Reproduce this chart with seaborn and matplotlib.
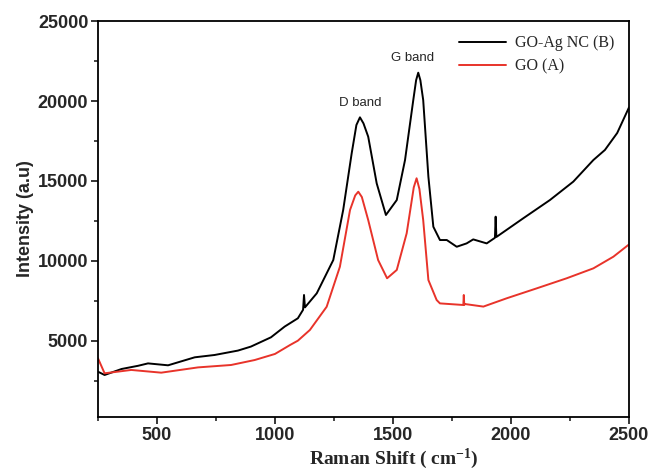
import numpy as np
import pandas as pd
import matplotlib
matplotlib.use("Agg")
import matplotlib.pyplot as plt
from matplotlib.ticker import MultipleLocator
import seaborn as sns

# Raman spectra (shift in cm-1, intensity in a.u.)
shift_agnc = [250, 278, 350, 420, 462, 547, 660, 744, 843, 898, 983, 1041, 1097, 1119, 1123, 1127,
              1177, 1247, 1289, 1325, 1345, 1360, 1375, 1395, 1431, 1470, 1516, 1551, 1586, 1598,
              1607, 1616, 1628, 1650, 1671, 1699, 1728, 1770, 1812, 1840, 1897, 1932, 1935, 1938,
              2052, 2165, 2264, 2349, 2398, 2450, 2500]
int_agnc = [3080, 2875, 3250, 3450, 3600, 3480, 3980, 4125, 4400, 4650, 5230, 5900, 6420, 6950, 7875, 7100,
            7980, 10060, 13190, 16730, 18500, 18980, 18600, 17770, 14850, 12875, 13810, 16310, 20060, 21300,
            21770, 21300, 20060, 15270, 12140, 11310, 11310, 10890, 11100, 11350, 11100, 11450, 12770, 11500,
            12670, 13810, 14960, 16310, 16940, 18000, 19600]

shift_go = [250, 278, 391, 518, 674, 814, 914, 1000, 1064, 1097, 1148, 1219, 1275, 1318, 1340,
            1353, 1368, 1395, 1437, 1475, 1516, 1558, 1588, 1600, 1612, 1628, 1650, 1685, 1699,
            1798, 1800, 1802, 1805, 1883, 1982, 2109, 2236, 2349, 2434, 2497]
int_go = [3920, 2980, 3190, 3020, 3350, 3500, 3810, 4190, 4750, 5020, 5690, 7140, 9640, 13190, 14100,
          14330, 14000, 12560, 10060, 8920, 9440, 11730, 14600, 15170, 14500, 12560, 8810, 7560, 7350,
          7250, 7875, 7250, 7310, 7150, 7670, 8290, 8920, 9540, 10270, 11000]

labels = ["GO-Ag NC (B)", "GO (A)"]
colors = ["#000000", "#e8332a"]

df = pd.concat([
    pd.DataFrame({"shift": shift_agnc, "intensity": int_agnc, "sample": labels[0]}),
    pd.DataFrame({"shift": shift_go, "intensity": int_go, "sample": labels[1]}),
])

sns.set_style("ticks")
plt.rcParams["font.family"] = ["Liberation Sans", "DejaVu Sans"]
plt.rcParams["mathtext.fontset"] = "custom"
plt.rcParams["mathtext.rm"] = "Liberation Serif:bold"
plt.rcParams["mathtext.bf"] = "Liberation Serif:bold"
plt.rcParams["mathtext.default"] = "bf"

fig = plt.figure(figsize=(6.51, 4.70), dpi=100)
ax = fig.add_axes([0.1505, 0.1128, 0.8157, 0.8425])

sns.lineplot(data=df, x="shift", y="intensity", hue="sample", hue_order=labels,
             palette=colors, linewidth=1.4, ax=ax, errorbar=None)

ax.set_xlim(250, 2500)
ax.set_ylim(250, 25000)
ax.set_xticks([500, 1000, 1500, 2000, 2500])
ax.set_yticks([5000, 10000, 15000, 20000, 25000])
ax.xaxis.set_minor_locator(MultipleLocator(250))
ax.yaxis.set_minor_locator(MultipleLocator(2500))

ax.tick_params(which="major", direction="out", length=5, width=1.3, labelsize=13, pad=2)
ax.tick_params(which="minor", direction="out", length=3, width=1.2)
for lab in ax.get_xticklabels() + ax.get_yticklabels():
    lab.set_fontweight("bold")

for sp in ax.spines.values():
    sp.set_linewidth(1.3)
    sp.set_visible(True)
    sp.set_color("black")

ax.set_xlabel("Raman Shift ( cm$^{-1}$)", fontsize=14, fontweight="bold",
              family=["Liberation Serif", "DejaVu Serif"])
ax.xaxis.set_label_coords(0.557, -0.075)
ax.set_ylabel("Intensity (a.u)", fontsize=13, fontweight="bold", labelpad=3)

ax.text(1360, 19900, "D band", ha="center", va="center", fontsize=9.5)
ax.text(1583, 22700, "G band", ha="center", va="center", fontsize=9.5)

ax.legend(loc="upper right", frameon=False, handlelength=2.9,
          prop={"family": "Liberation Serif", "size": 11.5},
          bbox_to_anchor=(1.0, 1.0), borderaxespad=0.5, labelspacing=0.45,
          handletextpad=0.6)

fig.savefig("out.png", dpi=100)
